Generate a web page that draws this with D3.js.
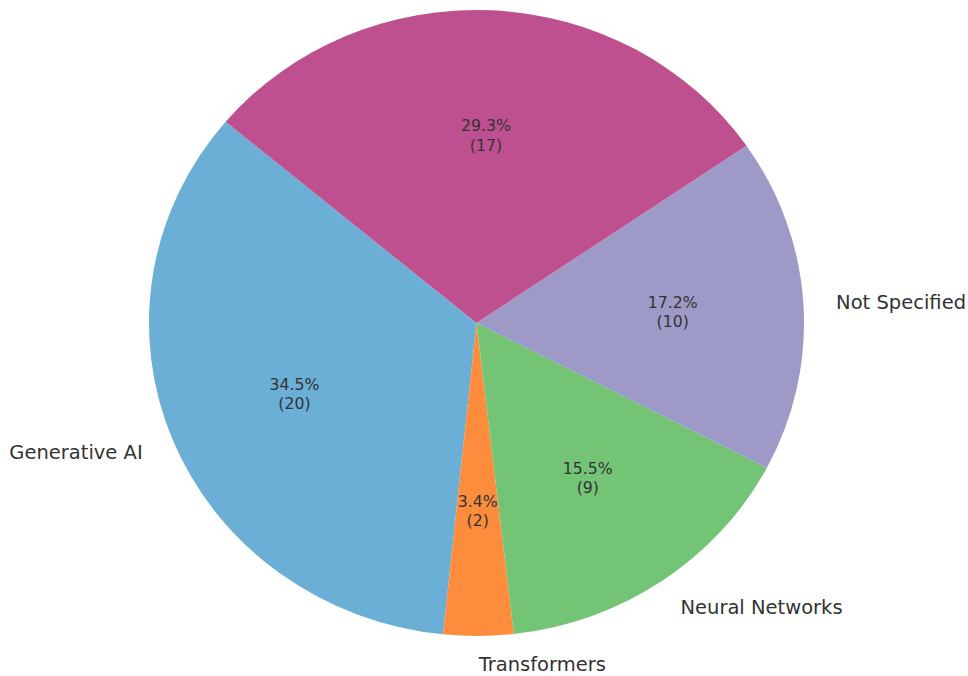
<!DOCTYPE html>
<html lang="en">
    <head>
        <meta charset="utf-8">
        <title>Pie</title>
        <script src="https://d3js.org/d3.v7.min.js"></script>
        <style>
            body { margin: 0; background: #fff; }
            text { font-family: "DejaVu Sans", sans-serif; fill: #333; }
        </style>
    </head>
    <body>
  <script type="text/javascript">
// slices, counter-clockwise from the start angle
var categories = ["Generative AI", "Transformers", "Neural Networks", "Not Specified", ""];
var counts = [20, 2, 9, 10, 17];
var colors = ["#6baed6", "#fd8d3c", "#74c476", "#9e9ac8", "#bf508f"];

var w = 968;
var h = 676;
var cx = 476.5, cy = 323;
var rx = 327.5, ry = 313;
var startDeg = 140;

var svg = d3.select("body")
      .append("svg")
      .attr("width", w)
      .attr("height", h);

var total = d3.sum(counts);

// d3 angles are clockwise from 12 o'clock, matplotlib goes ccw from 3 o'clock
var a0 = (90 - startDeg) * Math.PI / 180;
var pie = d3.pie().sort(null).startAngle(a0).endAngle(a0 - 2 * Math.PI);
var arcs = pie(counts);

var arc = d3.arc().innerRadius(0).outerRadius(100);

// unit -> pixel scales (slightly elliptical like the picture)
var x = d3.scaleLinear().domain([-1, 1]).range([cx - rx, cx + rx]);
var y = d3.scaleLinear().domain([-1, 1]).range([cy + ry, cy - ry]);

svg.append("g")
    .attr("transform", "translate(" + cx + "," + cy + ") scale(" + (rx / 100) + "," + (ry / 100) + ")")
    .selectAll("path")
    .data(arcs)
    .join("path")
    .attr("fill", (d, i) => colors[i])
    .attr("d", arc);

function mid(d) {
    // math angle in radians
    var m = (d.startAngle + d.endAngle) / 2;
    return Math.PI / 2 - m;
}

// outer labels
svg.append("g")
    .selectAll("text")
    .data(arcs.filter((d, i) => categories[i] !== ""))
    .join("text")
    .attr("x", d => x(1.1 * Math.cos(mid(d))))
    .attr("y", d => Math.min(y(1.1 * Math.sin(mid(d))), 664))
    .attr("dy", "0.35em")
    .attr("text-anchor", d => Math.cos(mid(d)) > 0 ? "start" : "end")
    .style("font-size", "19.5px")
    .text(d => categories[d.index]);

// percent labels
var pct = svg.append("g")
    .selectAll("text")
    .data(arcs)
    .join("text")
    .attr("text-anchor", "middle")
    .style("font-size", "15.7px")
    .attr("transform", d => "translate(" + x(0.6 * Math.cos(mid(d))) + "," + y(0.6 * Math.sin(mid(d))) + ")");

pct.append("tspan")
    .attr("x", 0)
    .attr("y", -4)
    .text(d => (d.value / total * 100).toFixed(1) + "%");
pct.append("tspan")
    .attr("x", 0)
    .attr("y", 15.5)
    .text(d => "(" + d.value + ")");
  </script>
    </body>
</html>
